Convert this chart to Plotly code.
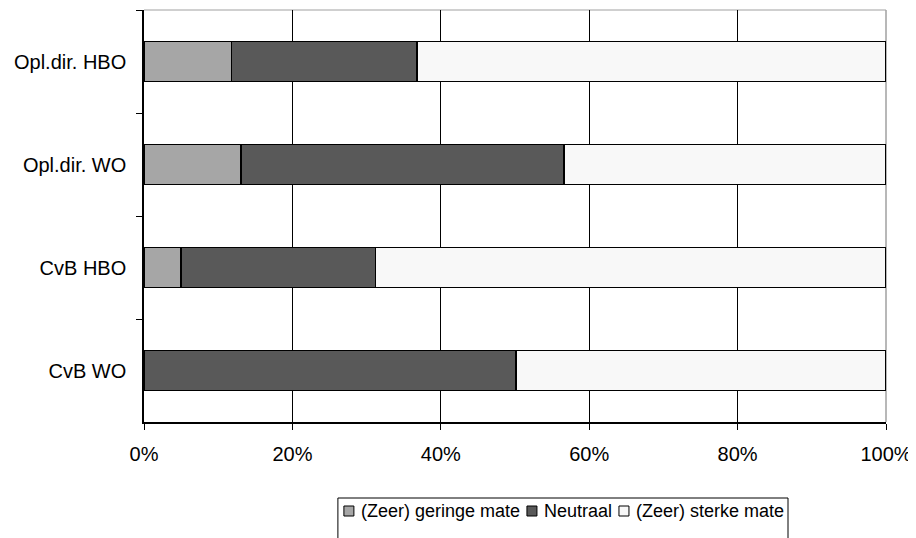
import plotly.graph_objects as go

categories = ["Opl.dir. HBO", "Opl.dir. WO", "CvB HBO", "CvB WO"]
geringe = [11.8, 13.1, 5.0, 0.0]
neutraal = [25.0, 43.5, 26.2, 50.1]
sterk = [63.2, 43.4, 68.8, 49.9]
x_ticks = [0, 20, 40, 60, 80, 100]
x_labels = ["0%", "20%", "40%", "60%", "80%", "100%"]

FONT = "Liberation Sans, Arial, sans-serif"
OFF = 8  # the page body adds an 8px margin around the figure
W, H = 916 - OFF, 538 - OFF
ML, MR, MT, MB = 144 - OFF, 30, 10 - OFF, 116
PW, PH = W - ML - MR, H - MT - MB

series = [
    ("(Zeer) geringe mate", geringe, "#a6a6a6"),
    ("Neutraal", neutraal, "#595959"),
    ("(Zeer) sterke mate", sterk, "#f8f8f8"),
]

fig = go.Figure()
for name, values, color in series:
    fig.add_trace(go.Bar(
        name=name, y=categories, x=values, orientation="h",
        marker={"color": color, "line": {"color": "#000000", "width": 1.6}},
        width=0.385, showlegend=False,
    ))

# grey frame on top and right like the original plot area
fig.add_shape(type="line", xref="paper", yref="paper", x0=0, x1=1, y0=1, y1=1,
              line={"color": "#a0a0a0", "width": 1}, layer="between")
fig.add_shape(type="line", xref="paper", yref="paper", x0=1, x1=1, y0=0, y1=1,
              line={"color": "#a0a0a0", "width": 1.5}, layer="between")


# legend drawn by hand (Excel style: small boxed squares, tight spacing)
ARIAL = {"(": 333, ")": 333, "Z": 611, "e": 556, "r": 333, " ": 278, "g": 556,
         "i": 222, "n": 556, "m": 833, "a": 556, "t": 278, "N": 722, "u": 556,
         "l": 222, "s": 500, "k": 500}


def text_width(s, size):
    return sum(ARIAL.get(c, 556) for c in s) * size / 1000


def px_x(px):
    # screen pixel -> paper x
    return (px - OFF - ML) / PW


def px_y(py):
    return (H - MB - (py - OFF)) / PH


LEG_SIZE = 18
SQ, PAD, GAP, SEP = 10, 6, 5, 9
LEG_RIGHT, LEG_TOP, LEG_MID = 788, 498, 511
total = PAD * 2 + sum(SQ + GAP + text_width(n, LEG_SIZE) for n, _, _ in series) + SEP * (len(series) - 1)
left = LEG_RIGHT - total
for x0, y0, x1, y1 in [(left, LEG_TOP, LEG_RIGHT, LEG_TOP), (left, LEG_TOP, left, H + 20),
                       (LEG_RIGHT, LEG_TOP, LEG_RIGHT, H + 20)]:
    fig.add_shape(type="line", xref="paper", yref="paper", x0=px_x(x0), x1=px_x(x1),
                  y0=px_y(y0), y1=px_y(y1), line={"color": "#000000", "width": 1})
cx = left + PAD
for name, _, color in series:
    fig.add_shape(type="rect", xref="paper", yref="paper",
                  x0=px_x(cx), x1=px_x(cx + SQ), y0=px_y(LEG_MID - SQ / 2), y1=px_y(LEG_MID + SQ / 2),
                  fillcolor=color, line={"color": "#000000", "width": 1})
    cx += SQ + GAP
    fig.add_annotation(text=name, xref="paper", yref="paper", x=px_x(cx), y=px_y(LEG_MID),
                       xanchor="left", yanchor="middle", showarrow=False,
                       font={"family": FONT, "size": LEG_SIZE, "color": "#000000"})
    cx += text_width(name, LEG_SIZE) + SEP

fig.update_layout(
    width=W, height=H,
    barmode="stack",
    paper_bgcolor="white", plot_bgcolor="white",
    font={"family": FONT, "size": 20, "color": "#000000"},
    margin={"l": ML, "r": MR, "t": MT, "b": MB, "autoexpand": False},
    showlegend=False,
    xaxis={
        "range": [0, 100], "tickvals": x_ticks, "ticktext": x_labels,
        "showgrid": True, "gridcolor": "#000000", "gridwidth": 1,
        "showline": True, "linecolor": "#000000", "linewidth": 1.5,
        "ticks": "outside", "ticklen": 6, "tickcolor": "#000000",
        "ticklabelstandoff": 7, "zeroline": False, "automargin": False,
    },
    yaxis={
        "categoryorder": "array", "categoryarray": categories,
        "autorange": "reversed", "automargin": False,
        "showgrid": False, "showline": True, "linecolor": "#000000", "linewidth": 1.5,
        "ticks": "outside", "ticklen": 6, "tickcolor": "#000000",
        "tickson": "boundaries", "ticklabelstandoff": 12,
    },
)

fig.write_html("out.html")
